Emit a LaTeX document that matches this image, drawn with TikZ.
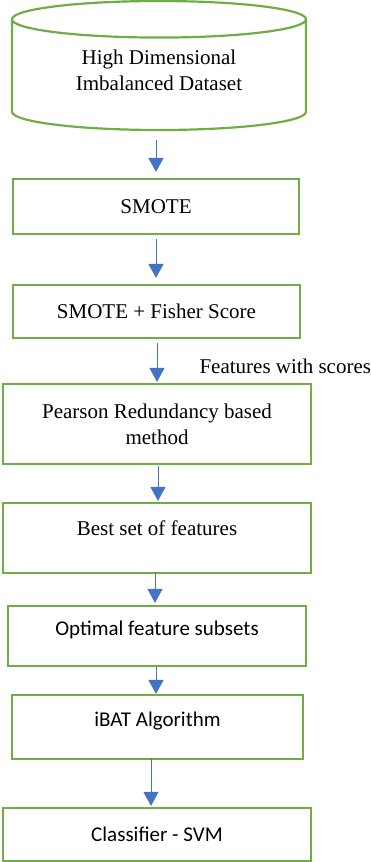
\documentclass[tikz,border=0pt]{standalone}
\usepackage{fontspec}
\setmainfont{Liberation Serif}
\newfontfamily\calibri{Carlito}
\usetikzlibrary{arrows.meta, shapes.geometric}
\definecolor{boxgreen}{HTML}{70AD47}
\definecolor{flowblue}{HTML}{4472C4}

\begin{document}
\begin{tikzpicture}[x=1pt, y=-1pt, >={Triangle[width=15pt, length=14pt]},
  box/.style={draw=boxgreen, line width=2.2pt, inner sep=0pt, align=center, font=\fontsize{21}{26}\selectfont},
  sansbox/.style={box, font=\calibri\fontsize{21}{26}\selectfont},
  flow/.style={->, draw=flowblue, line width=1pt}]
\useasboundingbox (0,0) rectangle (371,862);
% data source
\node[box, cylinder, shape border rotate=90, aspect=0.22, minimum width=294pt, minimum height=129pt, anchor=shape center, text depth=10pt] (data) at (159,65.5) {High Dimensional\\Imbalanced Dataset};
% processing steps
\node[box, minimum width=286pt, minimum height=55pt] (smote) at (156,206.5) {SMOTE};
\node[box, minimum width=287pt, minimum height=53pt] (fisher) at (156.5,311.5) {SMOTE + Fisher Score};
\node[box, minimum width=308pt, minimum height=80pt] (pearson) at (157,424) {Pearson Redundancy based\\method};
\node[box, minimum width=308pt, minimum height=70pt, text height=14pt, text depth=20pt] (best) at (157,538) {Best set of features};
\node[sansbox, minimum width=298pt, minimum height=60pt, text height=14pt, text depth=16pt] (optimal) at (157,636) {Optimal feature subsets};
\node[sansbox, minimum width=291pt, minimum height=64pt, text height=14pt, text depth=16pt] (ibat) at (157.5,727) {iBAT Algorithm};
\node[sansbox, minimum width=308pt, minimum height=53pt] (svm) at (157,834.5) {Classifier - SVM};
\node[anchor=base west, font=\fontsize{21}{26}\selectfont] (scores) at (196,373) {Features with scores};
% arrows
\draw[flow, shorten <=9pt, shorten >=6pt] ([xshift=-3pt]data.south) -- (smote.north);
\draw[flow, shorten <=4pt, shorten >=6pt] (smote.south) -- ([xshift=-0.5pt]fisher.north);
\draw[flow, shorten <=4pt, shorten >=1pt] ([xshift=0.5pt]fisher.south) -- (pearson.north);
\draw[flow, shorten <=1pt, shorten >=1pt] ([xshift=1pt]pearson.south) -- ([xshift=1pt]best.north);
\draw[flow, shorten <=-2pt, shorten >=2pt] ([xshift=-2pt]best.south) -- ([xshift=-2pt]optimal.north);
\draw[flow] ([xshift=-1pt]optimal.south) -- ([xshift=-1.5pt]ibat.north);
\draw[flow, shorten <=-2pt, shorten >=1pt] ([xshift=-6.5pt]ibat.south) -- ([xshift=-6pt]svm.north);
\end{tikzpicture}
\end{document}
